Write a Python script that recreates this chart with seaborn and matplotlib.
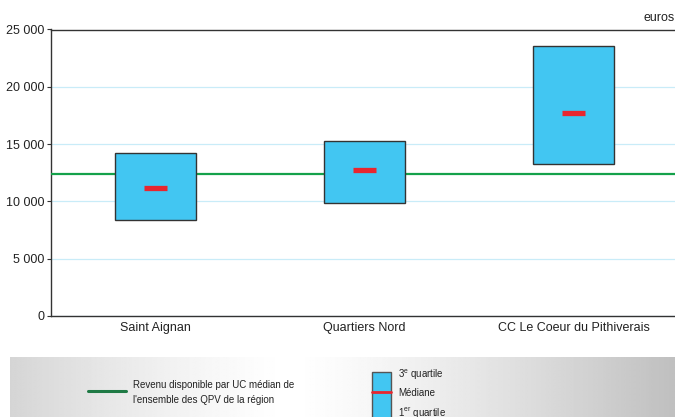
import numpy as np
import pandas as pd
import matplotlib
matplotlib.use("Agg")
import matplotlib.pyplot as plt
import matplotlib.ticker as mticker
from matplotlib import font_manager
import seaborn as sns

# --- Data ---
territoires = ["Saint Aignan", "Quartiers Nord", "CC Le Coeur du Pithiverais"]
q1 = [8380, 9850, 13250]
mediane = [11150, 12700, 17750]
q3 = [14250, 15300, 23550]
ref_region = 12400  # revenu median par UC, ensemble des QPV de la region

BOX_COLOR = "#42c6f2"
MED_COLOR = "#e8262f"
LINE_COLOR = "#14a14a"
GRID_COLOR = "#c9ecf8"

sns.set_theme(style="white")
plt.rcParams["font.family"] = ["Liberation Sans", "DejaVu Sans"]
plt.rcParams["mathtext.fontset"] = "custom"
plt.rcParams["mathtext.rm"] = "Liberation Sans"
plt.rcParams["mathtext.it"] = "Liberation Sans"

# narrow face for the legend text, if it is installed
names = {f.name for f in font_manager.fontManager.ttflist}
if "Liberation Sans Narrow" in names:
    LEG_FONT, LEG_SIZE = ["Liberation Sans Narrow", "DejaVu Sans"], 8.5
else:
    LEG_FONT, LEG_SIZE = ["Liberation Sans", "DejaVu Sans"], 7

df = pd.DataFrame({"territoire": territoires, "q1": q1, "mediane": mediane, "q3": q3})
df["ecart"] = df["q3"] - df["q1"]

fig = plt.figure(figsize=(6.75, 4.17), dpi=100)
ax = fig.add_axes([51 / 675, 1 - 316 / 417, 627 / 675, 286.5 / 417])

ax.axhline(ref_region, color=LINE_COLOR, lw=1.6, zorder=3)
sns.barplot(data=df, x="territoire", y="ecart", bottom=df["q1"].values, color=BOX_COLOR,
            saturation=1, width=0.39, edgecolor="#333333", linewidth=1.0, ax=ax, zorder=4)
ax.hlines(df["mediane"], np.arange(len(df)) - 0.053, np.arange(len(df)) + 0.053,
          color=MED_COLOR, lw=3.8, zorder=5)

ax.set_xlim(-0.5, 2.5)
ax.set_ylim(0, 25000)
ax.yaxis.set_major_locator(mticker.MultipleLocator(5000))
ax.yaxis.set_major_formatter(mticker.FuncFormatter(lambda v, p: f"{int(v):,}".replace(",", " ")))
ax.grid(axis="y", color=GRID_COLOR, lw=0.9, zorder=0)
ax.set_axisbelow(True)
ax.set_xlabel("")
ax.set_ylabel("")

ax.set_xticks([0, 1, 2])
ax.set_xticklabels(territoires)
ax.set_xticks([0.5, 1.5], minor=True)
ax.tick_params(axis="x", which="major", length=0, pad=4, labelsize=9, labelcolor="#222222")
ax.tick_params(axis="x", which="minor", length=3, direction="inout", color="#333333", width=0.8)
ax.tick_params(axis="y", length=3, direction="out", left=True, color="#333333", width=0.8,
               pad=2, labelsize=9, labelcolor="#222222")

for side in ["left", "top", "bottom"]:
    ax.spines[side].set_color("#333333")
    ax.spines[side].set_linewidth(1.0)
ax.spines["right"].set_visible(False)

fig.text(1.0, 1 - 18 / 417, "euros", ha="right", va="center", fontsize=9, color="#222222")

# --- Legend panel with grey gradient ---
leg = fig.add_axes([10 / 675, 0, 665 / 675, 60 / 417])
xs = np.linspace(0, 1, 400)
shade = 1 - 0.25 * np.clip(np.abs(xs - 0.42) / 0.58, 0, 1) ** 1.3
leg.imshow(np.tile(shade, (10, 1)), cmap="gray", vmin=0, vmax=1, aspect="auto",
           extent=[0, 665, 0, 60], zorder=0)
leg.set_xlim(0, 665)
leg.set_ylim(0, 60)
leg.axis("off")

leg.plot([78, 116], [26, 26], color="#1f7a45", lw=2.2, zorder=2)
leg.text(123, 32, "Revenu disponible par UC médian de", fontsize=LEG_SIZE, family=LEG_FONT,
         va="center", color="#222222")
leg.text(123, 17, "l'ensemble des QPV de la région", fontsize=LEG_SIZE, family=LEG_FONT,
         va="center", color="#222222")

leg.add_patch(plt.Rectangle((362, -5), 19, 50, facecolor=BOX_COLOR, edgecolor="#555555",
                            lw=1.0, zorder=2))
leg.plot([362, 381], [25, 25], color=MED_COLOR, lw=2.0, zorder=3)
leg.text(388, 42, "3$^{e}$ quartile", fontsize=LEG_SIZE, family=LEG_FONT, va="center", color="#222222")
leg.text(388, 24, "Médiane", fontsize=LEG_SIZE, family=LEG_FONT, va="center", color="#222222")
leg.text(388, 4, "1$^{er}$ quartile", fontsize=LEG_SIZE, family=LEG_FONT, va="center", color="#222222")

fig.savefig("out.png", dpi=100)
